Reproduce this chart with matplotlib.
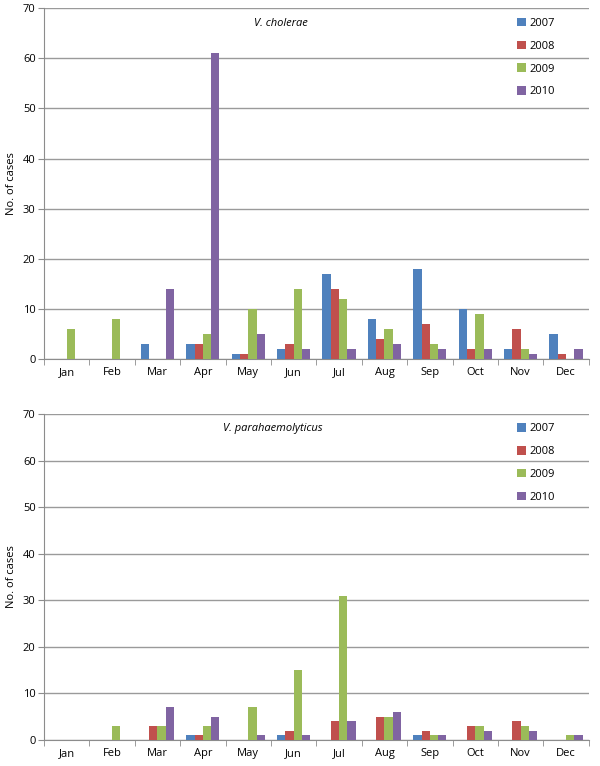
import numpy as np
import matplotlib
matplotlib.use("Agg")
import matplotlib.pyplot as plt

plt.rcParams['font.family'] = ['Open Sans', 'DejaVu Sans']

months = ['Jan', 'Feb', 'Mar', 'Apr', 'May', 'Jun', 'Jul', 'Aug', 'Sep', 'Oct', 'Nov', 'Dec']
years = ['2007', '2008', '2009', '2010']
colors = ['#4F81BD', '#C0504D', '#9BBB59', '#8064A2']

# V. cholerae
chol_2007 = [0, 0, 3, 3, 1, 2, 17, 8, 18, 10, 2, 5]
chol_2008 = [0, 0, 0, 3, 1, 3, 14, 4, 7, 2, 6, 1]
chol_2009 = [6, 8, 0, 5, 10, 14, 12, 6, 3, 9, 2, 0]
chol_2010 = [0, 0, 14, 61, 5, 2, 2, 3, 2, 2, 1, 2]

# V. parahaemolyticus
para_2007 = [0, 0, 0, 1, 0, 1, 0, 0, 1, 0, 0, 0]
para_2008 = [0, 0, 3, 1, 0, 2, 4, 5, 2, 3, 4, 0]
para_2009 = [0, 3, 3, 3, 7, 15, 31, 5, 1, 3, 3, 1]
para_2010 = [0, 0, 7, 5, 1, 1, 4, 6, 1, 2, 2, 1]


def draw(ax, series, title, title_x):
    x = np.arange(len(months))
    w = 0.183
    for i, vals in enumerate(series):
        ax.bar(x + (i - 1.5) * w, vals, w, color=colors[i], label=years[i], zorder=3)
    ax.set_xlim(-0.5, 11.5)
    ax.set_ylim(0, 70)
    ax.set_yticks(range(0, 71, 10))
    ax.yaxis.grid(True, color='#9a9a9a', linewidth=1)
    ax.set_axisbelow(True)
    ax.set_xticks(x)
    ax.set_xticklabels(months, fontsize=8)
    ax.set_xticks(np.arange(-0.5, 12, 1), minor=True)
    ax.tick_params(axis='x', which='major', length=0, pad=6)
    ax.tick_params(axis='x', which='minor', length=4, color='#8c8c8c', direction='out')
    ax.tick_params(axis='y', labelsize=8, length=4, color='#8c8c8c', pad=2)
    for s in ['top', 'right']:
        ax.spines[s].set_visible(False)
    for s in ['left', 'bottom']:
        ax.spines[s].set_color('#8c8c8c')
    ax.set_ylabel('No. of cases', fontsize=8, labelpad=4)
    ax.text(title_x, 0.955, title, transform=ax.transAxes, style='italic', fontsize=8, va='center')
    ax.legend(loc='upper left', bbox_to_anchor=(0.86, 0.985), frameon=False, fontsize=8,
              handlelength=0.8, handleheight=0.8, handletextpad=0.3, labelspacing=1.05,
              borderaxespad=0)


fig = plt.figure(figsize=(6, 7.66), dpi=100)
ax1 = fig.add_axes([0.0733, 0.5313, 0.908, 0.458])
ax2 = fig.add_axes([0.0733, 0.0339, 0.908, 0.4256])

draw(ax1, [chol_2007, chol_2008, chol_2009, chol_2010], 'V. cholerae', 0.385)
draw(ax2, [para_2007, para_2008, para_2009, para_2010], 'V. parahaemolyticus', 0.328)

fig.savefig('out.png', dpi=100)
